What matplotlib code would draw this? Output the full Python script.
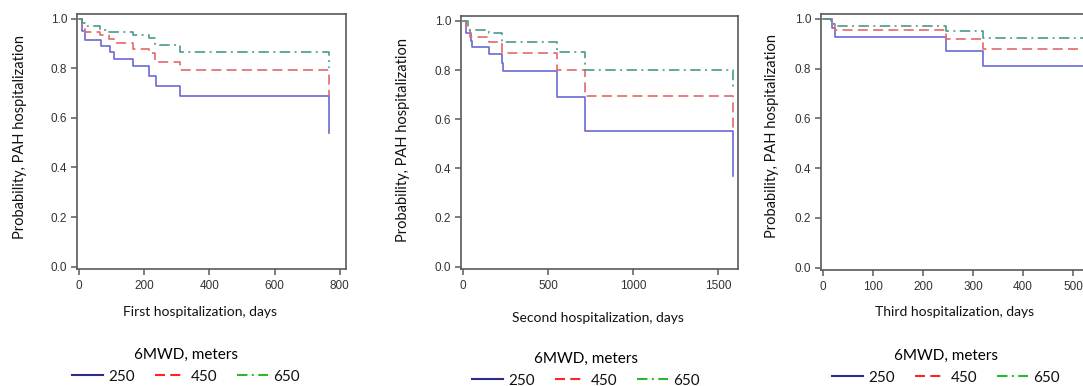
import matplotlib
matplotlib.use('Agg')
import matplotlib.pyplot as plt
from matplotlib.lines import Line2D

# ---------------- data ----------------
groups = ['250', '450', '650']
legend_title = '6MWD, meters'
ylabel_text = 'Probability, PAH hospitalization'
xlabel_texts = ['First hospitalization, days',
                'Second hospitalization, days',
                'Third hospitalization, days']

# Panel 1: first hospitalization
p1_t_250 = [0, 8, 18, 67, 95, 107, 167, 216, 235, 310, 766]
p1_s_250 = [1.0, 0.95, 0.915, 0.892, 0.866, 0.84, 0.808, 0.768, 0.73, 0.687, 0.54]
p1_t_450 = [0, 8, 18, 64, 93, 107, 165, 216, 233, 310, 766]
p1_s_450 = [1.0, 0.97, 0.949, 0.937, 0.918, 0.902, 0.879, 0.862, 0.825, 0.794, 0.69]
p1_t_650 = [0, 10, 18, 64, 93, 165, 216, 233, 310, 766]
p1_s_650 = [1.0, 0.985, 0.973, 0.956, 0.949, 0.937, 0.922, 0.895, 0.868, 0.80]

# Panel 2: second hospitalization
p2_t_250 = [0, 18, 45, 55, 153, 228, 233, 553, 716, 1590]
p2_s_250 = [1.0, 0.95, 0.918, 0.895, 0.866, 0.828, 0.796, 0.692, 0.551, 0.368]
p2_t_450 = [0, 18, 40, 153, 228, 553, 716, 1590]
p2_s_450 = [1.0, 0.97, 0.933, 0.915, 0.868, 0.80, 0.694, 0.55]
p2_t_650 = [0, 30, 153, 228, 553, 716, 1590]
p2_s_650 = [1.0, 0.963, 0.95, 0.915, 0.872, 0.80, 0.725]

# Panel 3: third hospitalization
p3_t_250 = [0, 17, 24, 246, 321, 560]
p3_s_250 = [1.0, 0.962, 0.926, 0.872, 0.81, 0.81]
p3_t_450 = [0, 17, 24, 246, 321, 560]
p3_s_450 = [1.0, 0.98, 0.955, 0.92, 0.878, 0.878]
p3_t_650 = [0, 15, 22, 246, 321, 560]
p3_s_650 = [1.0, 0.987, 0.973, 0.95, 0.923, 0.923]

x_ticks = [[0, 200, 400, 600, 800],
           [0, 500, 1000, 1500],
           [0, 100, 200, 300, 400, 500]]
y_ticks = [0.0, 0.2, 0.4, 0.6, 0.8, 1.0]

panels = [
    [(p1_t_250, p1_s_250), (p1_t_450, p1_s_450), (p1_t_650, p1_s_650)],
    [(p2_t_250, p2_s_250), (p2_t_450, p2_s_450), (p2_t_650, p2_s_650)],
    [(p3_t_250, p3_s_250), (p3_t_450, p3_s_450), (p3_t_650, p3_s_650)],
]

# ---------------- style ----------------
plt.rcParams['lines.scale_dashes'] = False
line_colors = ['#6a6ad6', '#e46a6a', '#4a9a8c']
legend_colors = ['#2b2e8c', '#ff2424', '#2cb82c']
dash_styles = ['-', (0, (7.2, 3.8)), (0, (7.5, 3.2, 1.4, 3.2))]

W, H = 1083, 386
fig = plt.figure(figsize=(W / 100, H / 100), dpi=100)
fig.patch.set_facecolor('white')


def fx(px):
    return px / W


def fy(py):
    return 1 - py / H


# axes boxes in pixels: left, top, right, bottom
boxes = [(77, 14, 346, 269), (461, 16, 738, 269), (821, 14, 1095, 270)]
xlims = [(-6, 819), (-12, 1618), (-4, 544)]
ylabel_pos = [(20, 137), (403, 140), (772, 136)]
xlabel_pos = [(200, 312), (598, 318), (955, 312)]
legend_pos = [(186, 366), (586, 370), (946, 367)]

label_font = 'Lato'
tick_font = 'Liberation Sans'

for i, (l, t, r, b) in enumerate(boxes):
    ax = fig.add_axes([fx(l), fy(b), (r - l) / W, (b - t) / H])
    for k, (tt, ss) in enumerate(panels[i]):
        ax.step(tt, ss, where='post', color=line_colors[k],
                linestyle=dash_styles[k], linewidth=1.2)
    ax.set_xlim(*xlims[i])
    ax.set_ylim(-0.01, 1.02)
    ax.set_xticks(x_ticks[i])
    ax.set_yticks(y_ticks)
    ax.set_yticklabels([f'{v:.1f}' for v in y_ticks])
    for sp in ax.spines.values():
        sp.set_color('#5a5a5a')
        sp.set_linewidth(1.2)
    ax.tick_params(axis='both', direction='out', length=4, width=1.1,
                   color='#5a5a5a', labelcolor='#333333', labelsize=8.5)
    ax.tick_params(axis='x', pad=4)
    ax.tick_params(axis='y', pad=3)
    for lab in ax.get_xticklabels() + ax.get_yticklabels():
        lab.set_family(tick_font)

    ax.set_ylabel(ylabel_text, family=label_font, fontsize=10.5, color='#111111')
    ax.yaxis.set_label_coords(fx(ylabel_pos[i][0]), fy(ylabel_pos[i][1]),
                              transform=fig.transFigure)
    ax.set_xlabel(xlabel_texts[i], family=label_font, fontsize=10, color='#111111')
    ax.xaxis.set_label_coords(fx(xlabel_pos[i][0]), fy(xlabel_pos[i][1]),
                              transform=fig.transFigure)
    ax.xaxis.label.set_va('center')
    ax.yaxis.label.set_va('center')

    handles = [Line2D([], [], color=legend_colors[k], linestyle=dash_styles[k],
                      linewidth=1.5) for k in range(3)]
    leg = ax.legend(handles, groups, title=legend_title, ncol=3, loc='center',
                    bbox_to_anchor=(fx(legend_pos[i][0]), fy(legend_pos[i][1])),
                    bbox_transform=fig.transFigure, frameon=False,
                    prop={'family': label_font, 'size': 11},
                    title_fontproperties={'family': label_font, 'size': 11},
                    handlelength=2.0, handletextpad=0.35, columnspacing=1.3,
                    borderpad=0, borderaxespad=0)
    for txt in leg.get_texts():
        txt.set_color('#111111')

fig.savefig('out.png', dpi=100, facecolor='white')
